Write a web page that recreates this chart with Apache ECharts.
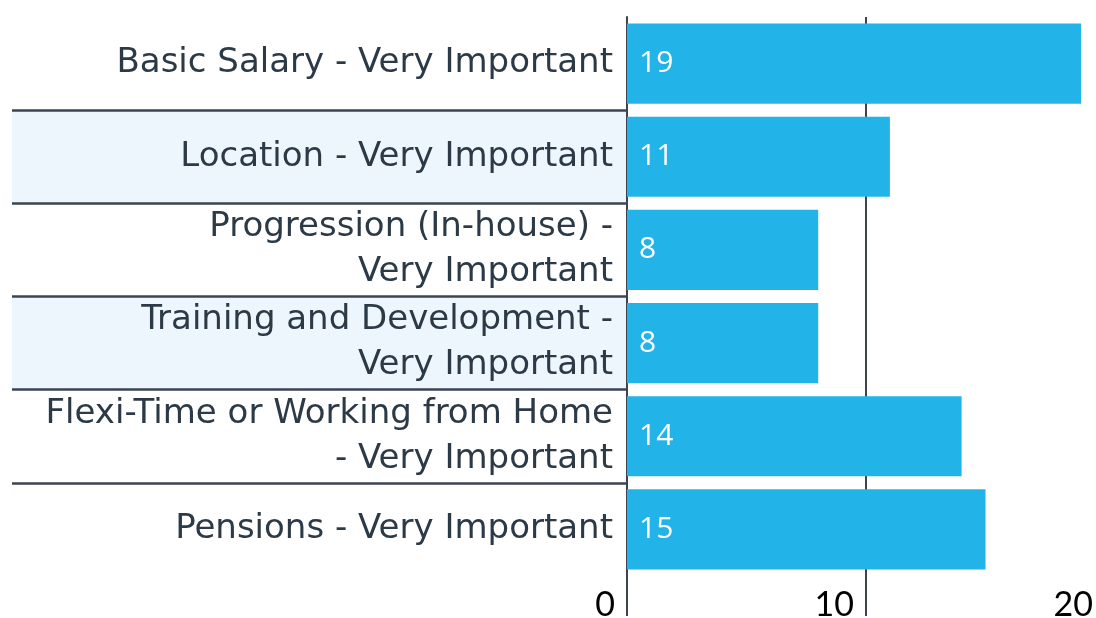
<!DOCTYPE html>
<html>
<head>
    <meta charset="utf-8">
    <title>Very Important</title>
    <script src="https://cdn.jsdelivr.net/npm/echarts@6/dist/echarts.min.js"></script>
    <style>
        html, body { margin: 0; padding: 0; background: #fff; }
    </style>
</head>
<body>
    <div id="main" style="width: 1096px;height:618px;"></div>
    <script type="text/javascript">
        // labels wrap exactly where the original chart wrapped them
        var categories = [
            'Basic Salary - Very Important',
            'Location - Very Important',
            'Progression (In-house) -\nVery Important',
            'Training and Development -\nVery Important',
            'Flexi-Time or Working from Home\n- Very Important',
            'Pensions - Very Important'
        ];
        var counts = [19, 11, 8, 8, 14, 15];
        var xTicks = [0, 10, 20];

        // row shading behind the labels (2nd and 4th rows are tinted)
        var rowColors = ['#ffffff', '#eef6fd', '#ffffff', '#eef6fd', '#ffffff', '#ffffff'];

        var lineColor = '#3b4450';
        var fontFamily = '"DejaVu Sans", sans-serif';

        var myChart = echarts.init(document.getElementById('main'));

        var option = {
            animation: false,
            grid: [
                // the "20" gridline sits just past the right edge of the picture
                { left: 627, width: 478, top: 17, bottom: 42, outerBoundsMode: 'none', containLabel: false },
                // label area, only used for the bands and separators
                { left: 12, width: 615, top: 17, bottom: 42, outerBoundsMode: 'none', containLabel: false }
            ],
            xAxis: [{
                type: 'value',
                gridIndex: 0,
                min: xTicks[0],
                max: xTicks[xTicks.length - 1],
                interval: 10,
                axisLine: { show: false },
                axisTick: {
                    show: true,
                    length: 40,
                    lineStyle: { color: lineColor, width: 2 }
                },
                splitLine: {
                    show: true,
                    lineStyle: { color: lineColor, width: 2 }
                },
                axisLabel: {
                    color: '#000',
                    fontSize: 34,
                    fontFamily: 'Lato, sans-serif',
                    align: 'right',
                    padding: [0, 12, 0, 0],
                    margin: 12
                }
            }, {
                type: 'value',
                gridIndex: 1,
                show: false
            }],
            yAxis: [{
                type: 'category',
                gridIndex: 0,
                data: categories,
                inverse: true,
                axisLine: {
                    show: true,
                    lineStyle: { color: lineColor, width: 2 }
                },
                axisTick: { show: false },
                axisLabel: {
                    color: '#2c3a47',
                    fontSize: 34,
                    fontFamily: fontFamily,
                    lineHeight: 45,
                    margin: 14
                }
            }, {
                type: 'category',
                gridIndex: 1,
                data: categories,
                inverse: true,
                axisLine: { show: false },
                axisTick: { show: false },
                axisLabel: { show: false },
                splitArea: {
                    show: true,
                    areaStyle: { color: rowColors }
                },
                splitLine: {
                    show: true,
                    showMinLine: false,
                    showMaxLine: false,
                    lineStyle: { color: lineColor, width: 2.5 }
                }
            }],
            series: [{
                type: 'bar',
                xAxisIndex: 0,
                yAxisIndex: 0,
                data: counts,
                barCategoryGap: '14%',
                itemStyle: { color: '#22b4e8' },
                label: {
                    show: true,
                    position: 'insideLeft',
                    distance: 12,
                    color: '#fff',
                    fontSize: 30,
                    fontFamily: '"Open Sans", sans-serif'
                }
            }]
        };

        myChart.setOption(option);
    </script>
</body>
</html>
